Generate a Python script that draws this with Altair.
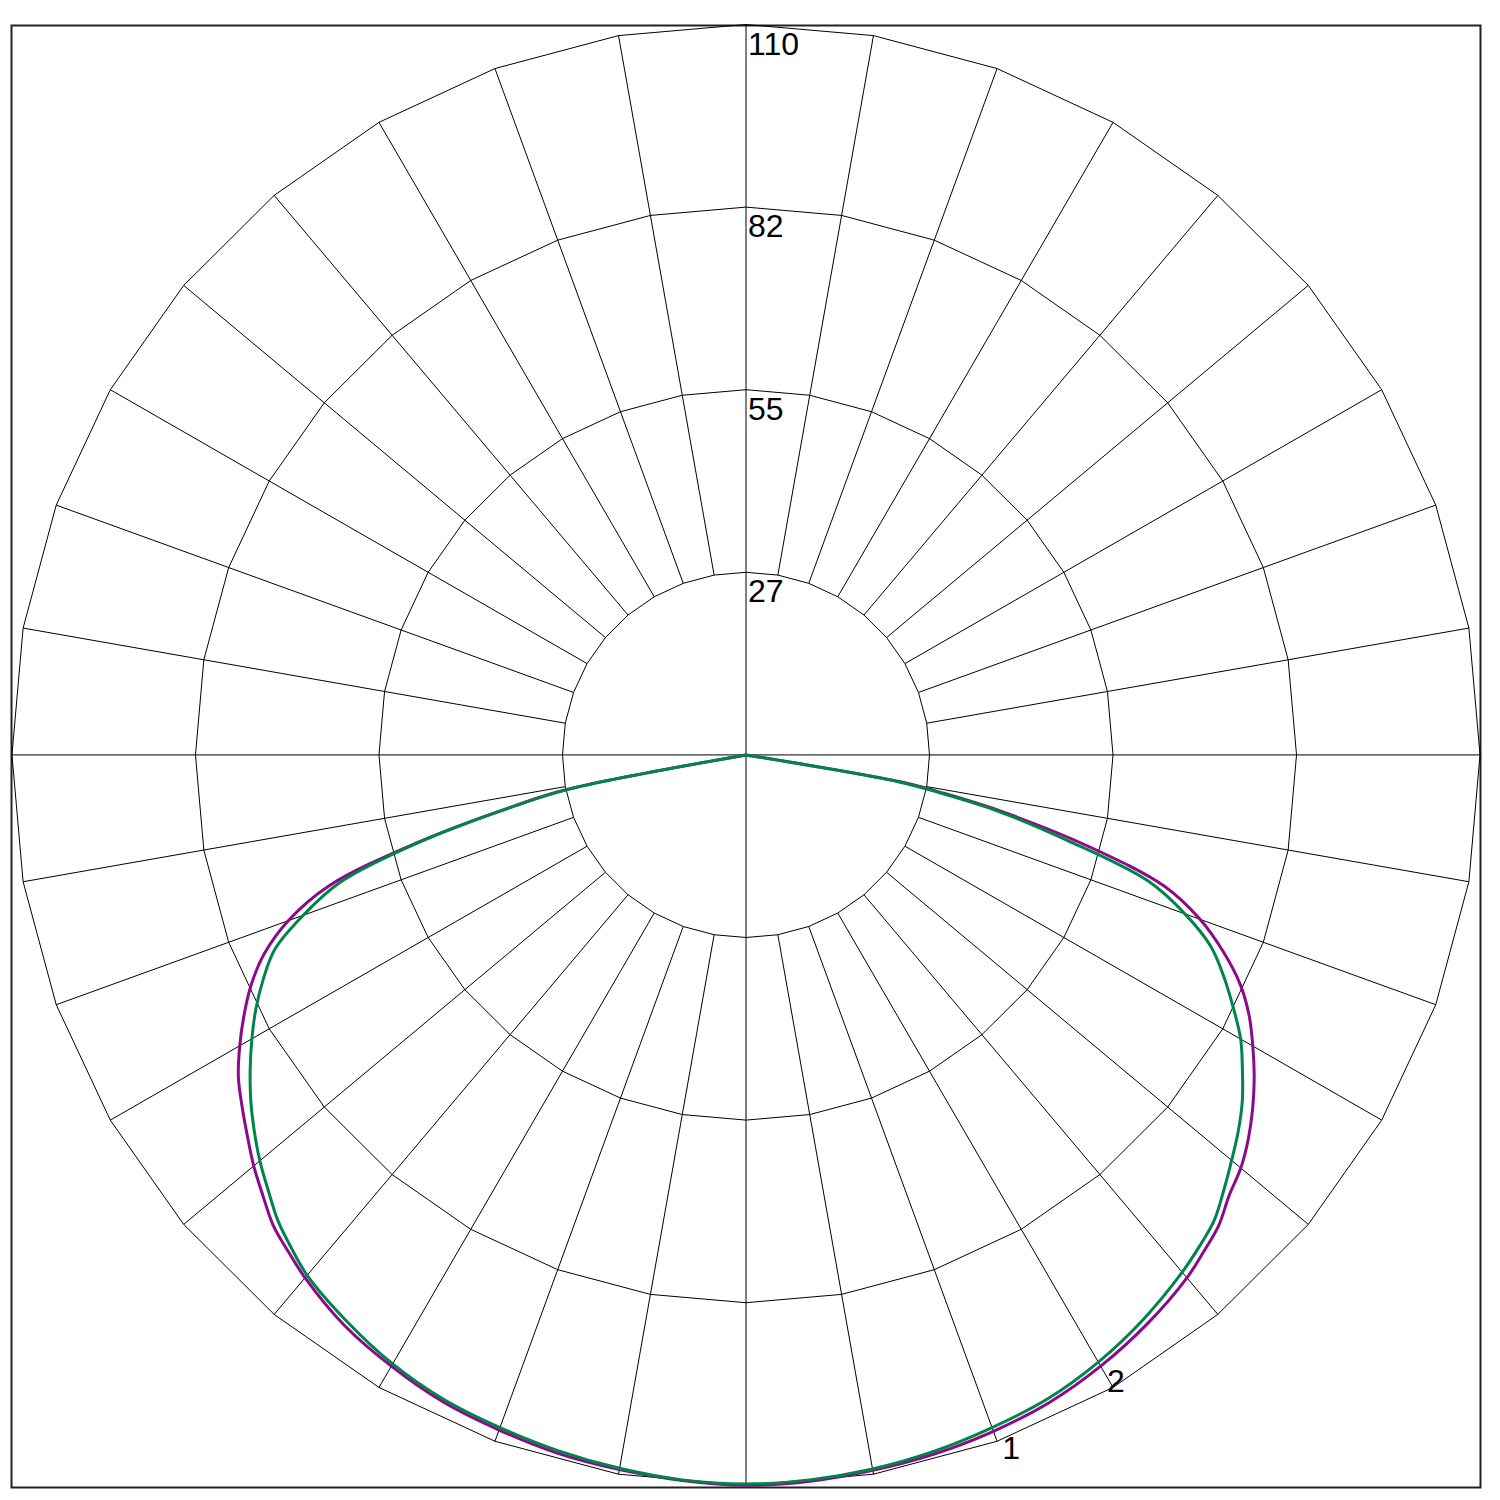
import math
import altair as alt
import pandas as pd

# Polar luminous intensity diagram (cd/klm) - gamma measured from nadir
GAMMA = [0, 5, 10, 15, 20, 25, 30, 35, 40, 42.5, 45, 47.5, 50, 52.5, 55, 57.5, 60, 62.5,
         65, 67.5, 70, 72.5, 75, 77.5, 79, 80, 85, 90]

# Curve 1 (purple): right half and left half
C1_RIGHT = [110.0, 109.8, 109.4, 109.0, 108.4, 107.6, 106.3, 104.7, 102.8, 101.5, 100.2, 98.2,
            96.8, 94.9, 92.7, 90.3, 87.7, 85.0, 81.7, 77.4, 72.4, 65.7, 53.0, 39.0, 30.0, 24.0,
            0.0, 0.0]
C1_LEFT = [110.0, 109.7, 109.3, 108.9, 108.2, 107.5, 106.3, 104.9, 102.8, 101.5, 100.2, 98.2,
           96.3, 94.2, 92.2, 90.2, 87.6, 84.8, 81.8, 78.1, 73.0, 65.5, 51.0, 35.6, 27.5, 0.0,
           0.0, 0.0]
# Curve 2 (green)
C2_RIGHT = [109.8, 109.6, 109.2, 108.6, 107.8, 107.0, 105.6, 103.8, 101.7, 100.5, 99.2, 97.1,
            95.0, 93.0, 90.8, 88.2, 85.6, 82.3, 79.0, 75.4, 70.0, 63.2, 50.0, 38.0, 29.0, 23.0,
            0.0, 0.0]
C2_LEFT = [109.8, 109.6, 109.1, 108.5, 107.8, 107.1, 105.9, 104.2, 102.3, 100.8, 99.2, 97.1,
           95.1, 92.9, 90.6, 88.1, 85.5, 82.8, 79.8, 76.4, 70.6, 63.7, 50.5, 35.5, 27.0, 0.0,
           0.0, 0.0]

CURVE_NAMES = ["1", "2"]
CURVE_COLORS = ["#8b0a8b", "#00844a"]

RINGS = [27.5, 55, 82.5, 110]
RING_LABELS = ["27", "55", "82", "110"]
SPOKE_ANGLES = list(range(0, 360, 10))
POLY_ANGLES = list(range(0, 361, 10))

LABEL_ANGLE = [19.9, 29.4]
LABEL_RADIUS = [112.8, 110.2]

# ---------- build tables ----------
curve_rows = []
for name, right, left in [("1", C1_RIGHT, C1_LEFT), ("2", C2_RIGHT, C2_LEFT)]:
    for g, v in zip(GAMMA, left):
        if g == 0:
            continue
        curve_rows.append({"curve": name, "g": -g, "I": v})
    for g, v in zip(GAMMA, right):
        curve_rows.append({"curve": name, "g": g, "I": v})
curves = pd.DataFrame(curve_rows)

ring_rows = []
for r in RINGS:
    for a in POLY_ANGLES:
        ring_rows.append({"ring": r, "a": a, "r": r})
rings = pd.DataFrame(ring_rows)

spoke_rows = []
for a in SPOKE_ANGLES:
    r0 = 0.0 if a % 90 == 0 else RINGS[0]
    spoke_rows.append({"a": a, "r0": r0, "r1": RINGS[-1]})
spokes = pd.DataFrame(spoke_rows)

ring_lab = pd.DataFrame({"r": RINGS, "label": RING_LABELS})
curve_lab = pd.DataFrame({"label": CURVE_NAMES, "a": LABEL_ANGLE, "r": LABEL_RADIUS})

xs = alt.Scale(domain=[-110.07, 110.07], nice=False, zero=False)
ys = alt.Scale(domain=[-110.33, 109.85], nice=False, zero=False)
FONT = "Liberation Sans"

def X(f="x"):
    return alt.X(f"{f}:Q", scale=xs, axis=None)

def Y(f="y"):
    return alt.Y(f"{f}:Q", scale=ys, axis=None)

spoke_layer = alt.Chart(spokes).transform_calculate(
    x="datum.r0*sin(datum.a*PI/180)",
    y="datum.r0*cos(datum.a*PI/180)",
    x2="datum.r1*sin(datum.a*PI/180)",
    y2="datum.r1*cos(datum.a*PI/180)",
).mark_rule(color="#000000", strokeWidth=1).encode(
    x=X(), y=Y(), x2="x2:Q", y2="y2:Q"
)

ring_layer = alt.Chart(rings).transform_calculate(
    x="datum.r*sin(datum.a*PI/180)",
    y="datum.r*cos(datum.a*PI/180)",
).mark_line(color="#000000", strokeWidth=1).encode(
    x=X(), y=Y(), detail="ring:N", order="a:Q"
)

curve_layer = alt.Chart(curves).transform_calculate(
    x="datum.I*sin(datum.g*PI/180)",
    y="-datum.I*cos(datum.g*PI/180)",
).mark_line(strokeWidth=3, interpolate="catmull-rom").encode(
    x=X(), y=Y(), order="g:Q",
    color=alt.Color("curve:N", scale=alt.Scale(domain=CURVE_NAMES, range=CURVE_COLORS), legend=None),
)

ring_text = alt.Chart(ring_lab).transform_calculate(x="0", y="datum.r").mark_text(
    align="left", baseline="alphabetic", dx=2, dy=30, fontSize=32, font=FONT, color="#000000"
).encode(x=X(), y=Y(), text="label:N")

curve_text = alt.Chart(curve_lab).transform_calculate(
    x="datum.r*sin(datum.a*PI/180)",
    y="-datum.r*cos(datum.a*PI/180)",
).mark_text(
    align="left", baseline="alphabetic", fontSize=32, font=FONT, color="#000000"
).encode(x=X(), y=Y(), text="label:N")

chart = alt.layer(spoke_layer, ring_layer, curve_layer, ring_text, curve_text).properties(
    width=1469, height=1462,
    padding={"left": 1.5, "top": 14.5, "right": 5, "bottom": 5},
    background="#ffffff",
).configure_view(stroke="#222222", strokeWidth=2)

chart.save("out.html", embed_options={"renderer": "svg", "actions": False})
